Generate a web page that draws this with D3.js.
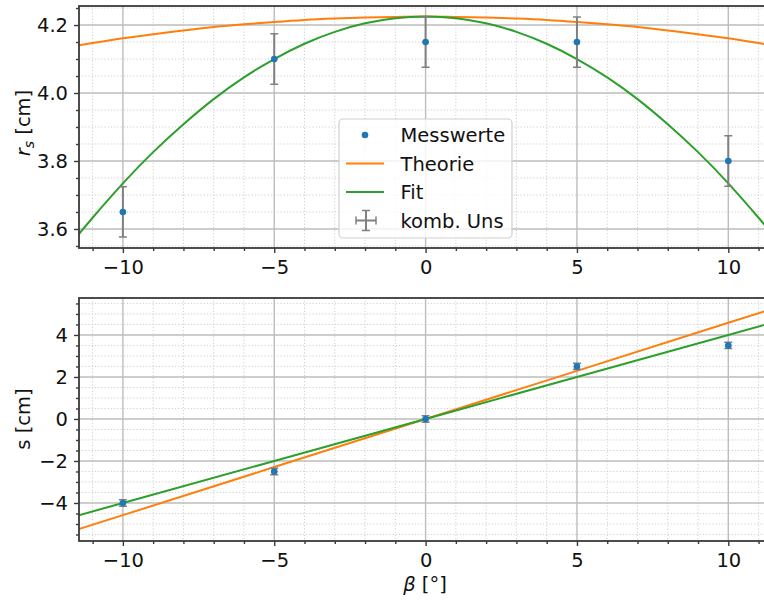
<!DOCTYPE html>
<html>
<head>
<meta charset="utf-8">
<script src="https://cdn.jsdelivr.net/npm/d3@7"></script>
<style>
  body { margin: 0; background: #fff; }
  svg { display: block; font-family: "DejaVu Sans", sans-serif; }
</style>
</head>
<body>
<svg id="chart" width="764" height="601"></svg>
<script>
// Messwerte
const beta = [-10, -5, 0, 5, 10];
const betaErr = [0.1, 0.1, 0.1, 0.1, 0.1];
const rsMess = [3.65, 4.10, 4.15, 4.15, 3.80];
const rsErr = [0.074, 0.074, 0.074, 0.074, 0.074];
const sMess = [-4.0, -2.5, 0.0, 2.5, 3.5];
const sErr = [0.15, 0.15, 0.15, 0.15, 0.15];

// Kurven
const curveBeta = [-11.5, -11, -10, -9, -8, -7, -6, -5, -4, -3, -2, -1, 0,
                   1, 2, 3, 4, 5, 6, 7, 8, 9, 10, 11, 11.5];
const rsTheorie = [4.140, 4.147, 4.161, 4.173, 4.184, 4.194, 4.202, 4.209, 4.215, 4.219, 4.222, 4.224, 4.225,
                   4.224, 4.222, 4.219, 4.215, 4.209, 4.202, 4.194, 4.184, 4.173, 4.161, 4.147, 4.140];
const rsFit = [3.580, 3.633, 3.734, 3.826, 3.908, 3.982, 4.046, 4.100, 4.145, 4.180, 4.205, 4.220, 4.225,
               4.220, 4.205, 4.180, 4.145, 4.100, 4.046, 3.982, 3.908, 3.826, 3.734, 3.633, 3.580];
const lineBeta = [-11.5, -10, -5, 0, 5, 10, 11.5];
const sTheorie = [-5.26, -4.58, -2.29, 0, 2.29, 4.58, 5.26];
const sFit = [-4.6, -4.0, -2.0, 0, 2.0, 4.0, 4.6];

// Ticks
const xMajor = [-10, -5, 0, 5, 10];
const xMinor = d3.range(-11, 12, 1).filter(v => v % 5 !== 0);
const rsMajor = [3.6, 3.8, 4.0, 4.2];
const rsMinor = [3.55, 3.65, 3.7, 3.75, 3.85, 3.9, 3.95, 4.05, 4.1, 4.15, 4.25];
const sMajor = [-4, -2, 0, 2, 4];
const sMinor = [-5.5, -5, -4.5, -3.5, -3, -2.5, -1.5, -1, -0.5, 0.5, 1, 1.5, 2.5, 3, 3.5, 4.5, 5, 5.5];

const colors = { mess: "#1f77b4", theorie: "#ff7f0e", fit: "#2ca02c", err: "#808080" };
const spineColor = "#3a3a3a";
const fontSize = "19.5px";

const svg = d3.select("#chart");

const x = d3.scaleLinear().domain([-11.45, 11.5]).range([79, 773.7]);
const yTop = d3.scaleLinear().domain([3.544, 4.256]).range([248, 6]);
const yBot = d3.scaleLinear().domain([-5.81, 5.76]).range([541, 298]);

function drawPanel(id, y, yMajor, yMinor, yFmt) {
  const g = svg.append("g");
  const [x0, x1] = x.range();
  const [yb, yt] = y.range();

  g.append("clipPath").attr("id", id)
    .append("rect").attr("x", x0).attr("y", yt).attr("width", x1 - x0).attr("height", yb - yt);

  // minor grid
  g.selectAll(".gxm").data(xMinor).join("line")
    .attr("x1", d => x(d)).attr("x2", d => x(d)).attr("y1", yt).attr("y2", yb)
    .attr("stroke", "#cfcfcf").attr("stroke-width", 1).attr("stroke-dasharray", "1.2,2");
  g.selectAll(".gym").data(yMinor).join("line")
    .attr("x1", x0).attr("x2", x1).attr("y1", d => y(d)).attr("y2", d => y(d))
    .attr("stroke", "#cfcfcf").attr("stroke-width", 1).attr("stroke-dasharray", "1.2,2");
  // major grid
  g.selectAll(".gx").data(xMajor).join("line")
    .attr("x1", d => x(d)).attr("x2", d => x(d)).attr("y1", yt).attr("y2", yb)
    .attr("stroke", "#bdbdbd").attr("stroke-width", 1.4);
  g.selectAll(".gy").data(yMajor).join("line")
    .attr("x1", x0).attr("x2", x1).attr("y1", d => y(d)).attr("y2", d => y(d))
    .attr("stroke", "#bdbdbd").attr("stroke-width", 1.4);

  // axes
  const ax = g.append("g").attr("transform", `translate(0,${yb})`)
    .call(d3.axisBottom(x).tickValues(xMajor).tickSize(5).tickPadding(7).tickFormat(d3.format("d")));
  const axm = g.append("g").attr("transform", `translate(0,${yb})`)
    .call(d3.axisBottom(x).tickValues(xMinor).tickSize(3).tickFormat(""));
  const ay = g.append("g").attr("transform", `translate(${x0},0)`)
    .call(d3.axisLeft(y).tickValues(yMajor).tickSize(5).tickPadding(6).tickFormat(d3.format(yFmt)));
  const aym = g.append("g").attr("transform", `translate(${x0},0)`)
    .call(d3.axisLeft(y).tickValues(yMinor).tickSize(3).tickFormat(""));
  [ax, axm, ay, aym].forEach(a => {
    a.select(".domain").remove();
    a.selectAll("line").attr("stroke", spineColor).attr("stroke-width", 1.4);
    a.selectAll("text").attr("fill", "#111").style("font-size", fontSize)
      .style("font-family", "DejaVu Sans");
  });

  const plot = g.append("g").attr("clip-path", `url(#${id})`);
  return { g, plot, x0, x1, yb, yt };
}

function drawSpines(p) {
  p.g.append("rect")
    .attr("x", p.x0).attr("y", p.yt).attr("width", p.x1 - p.x0).attr("height", p.yb - p.yt)
    .attr("fill", "none").attr("stroke", spineColor).attr("stroke-width", 1.8);
}

function drawErrPoints(plot, y, vals, errs) {
  const data = beta.map((b, i) => ({ b: b, v: vals[i], e: errs[i], be: betaErr[i] }));
  const eb = plot.append("g").attr("stroke", colors.err).attr("stroke-width", 2);
  data.forEach(d => {
    eb.append("line").attr("x1", x(d.b)).attr("x2", x(d.b)).attr("y1", y(d.v - d.e)).attr("y2", y(d.v + d.e));
    eb.append("line").attr("x1", x(d.b - d.be)).attr("x2", x(d.b + d.be)).attr("y1", y(d.v)).attr("y2", y(d.v));
    [d.v - d.e, d.v + d.e].forEach(c => {
      eb.append("line").attr("x1", x(d.b) - 4).attr("x2", x(d.b) + 4).attr("y1", y(c)).attr("y2", y(c))
        .attr("stroke-width", 1.5);
    });
  });
  plot.selectAll(".pt").data(data).join("circle")
    .attr("cx", d => x(d.b)).attr("cy", d => y(d.v)).attr("r", 3.3).attr("fill", colors.mess);
}

// ---------------- oberes Panel: r_s
const panelTop = drawPanel("clipTop", yTop, rsMajor, rsMinor, ".1f");
const lineTop = d3.line().x(d => x(d[0])).y(d => yTop(d[1])).curve(d3.curveNatural);
panelTop.plot.append("path").datum(curveBeta.map((b, i) => [b, rsTheorie[i]]))
  .attr("d", lineTop).attr("fill", "none").attr("stroke", colors.theorie).attr("stroke-width", 2);
panelTop.plot.append("path").datum(curveBeta.map((b, i) => [b, rsFit[i]]))
  .attr("d", lineTop).attr("fill", "none").attr("stroke", colors.fit).attr("stroke-width", 2);
drawErrPoints(panelTop.plot, yTop, rsMess, rsErr);
drawSpines(panelTop);

// y label r_s [cm]
const lblTop = svg.append("text")
  .attr("transform", "translate(30,123) rotate(-90)")
  .attr("text-anchor", "middle").style("font-size", fontSize).attr("fill", "#111");
lblTop.append("tspan").style("font-style", "italic").text("r");
lblTop.append("tspan").attr("dy", 4).style("font-size", "14px").style("font-style", "italic").text("s");
lblTop.append("tspan").attr("dy", -4).text(" [cm]");

// legend
const leg = svg.append("g");
leg.append("rect").attr("x", 339).attr("y", 119).attr("width", 173).attr("height", 119)
  .attr("rx", 4).attr("fill", "#fff").attr("fill-opacity", 0.8)
  .attr("stroke", "#d0d0d0").attr("stroke-width", 1.2);
const legItems = ["Messwerte", "Theorie", "Fit", "komb. Uns"];
const legY = [135, 163.5, 192, 220.5];
leg.append("circle").attr("cx", 365).attr("cy", legY[0]).attr("r", 3.3).attr("fill", colors.mess);
leg.append("line").attr("x1", 346).attr("x2", 384).attr("y1", legY[1]).attr("y2", legY[1])
  .attr("stroke", colors.theorie).attr("stroke-width", 2);
leg.append("line").attr("x1", 346).attr("x2", 384).attr("y1", legY[2]).attr("y2", legY[2])
  .attr("stroke", colors.fit).attr("stroke-width", 2);
const le = leg.append("g").attr("stroke", colors.err).attr("stroke-width", 2);
le.append("line").attr("x1", 356).attr("x2", 376).attr("y1", legY[3]).attr("y2", legY[3]);
le.append("line").attr("x1", 366).attr("x2", 366).attr("y1", legY[3] - 10).attr("y2", legY[3] + 10);
le.append("line").attr("x1", 362).attr("x2", 370).attr("y1", legY[3] - 10).attr("y2", legY[3] - 10).attr("stroke-width", 1.5);
le.append("line").attr("x1", 362).attr("x2", 370).attr("y1", legY[3] + 10).attr("y2", legY[3] + 10).attr("stroke-width", 1.5);
le.append("line").attr("x1", 356).attr("x2", 356).attr("y1", legY[3] - 4).attr("y2", legY[3] + 4).attr("stroke-width", 1.5);
le.append("line").attr("x1", 376).attr("x2", 376).attr("y1", legY[3] - 4).attr("y2", legY[3] + 4).attr("stroke-width", 1.5);
leg.selectAll(".lt").data(legItems).join("text")
  .attr("x", 400.5).attr("y", (d, i) => legY[i] + 7)
  .style("font-size", fontSize).attr("fill", "#111").text(d => d);

// ---------------- unteres Panel: s
const panelBot = drawPanel("clipBot", yBot, sMajor, sMinor, "d");
const lineBot = d3.line().x(d => x(d[0])).y(d => yBot(d[1]));
panelBot.plot.append("path").datum(lineBeta.map((b, i) => [b, sTheorie[i]]))
  .attr("d", lineBot).attr("fill", "none").attr("stroke", colors.theorie).attr("stroke-width", 2);
panelBot.plot.append("path").datum(lineBeta.map((b, i) => [b, sFit[i]]))
  .attr("d", lineBot).attr("fill", "none").attr("stroke", colors.fit).attr("stroke-width", 2);
drawErrPoints(panelBot.plot, yBot, sMess, sErr);
drawSpines(panelBot);

svg.append("text")
  .attr("transform", "translate(30,419) rotate(-90)")
  .attr("text-anchor", "middle").style("font-size", fontSize).attr("fill", "#111")
  .text("s [cm]");

const xl = svg.append("text").attr("x", 425).attr("y", 591)
  .attr("text-anchor", "middle").style("font-size", fontSize).attr("fill", "#111");
xl.append("tspan").style("font-style", "italic").text("β");
xl.append("tspan").text(" [°]");
</script>
</body>
</html>
